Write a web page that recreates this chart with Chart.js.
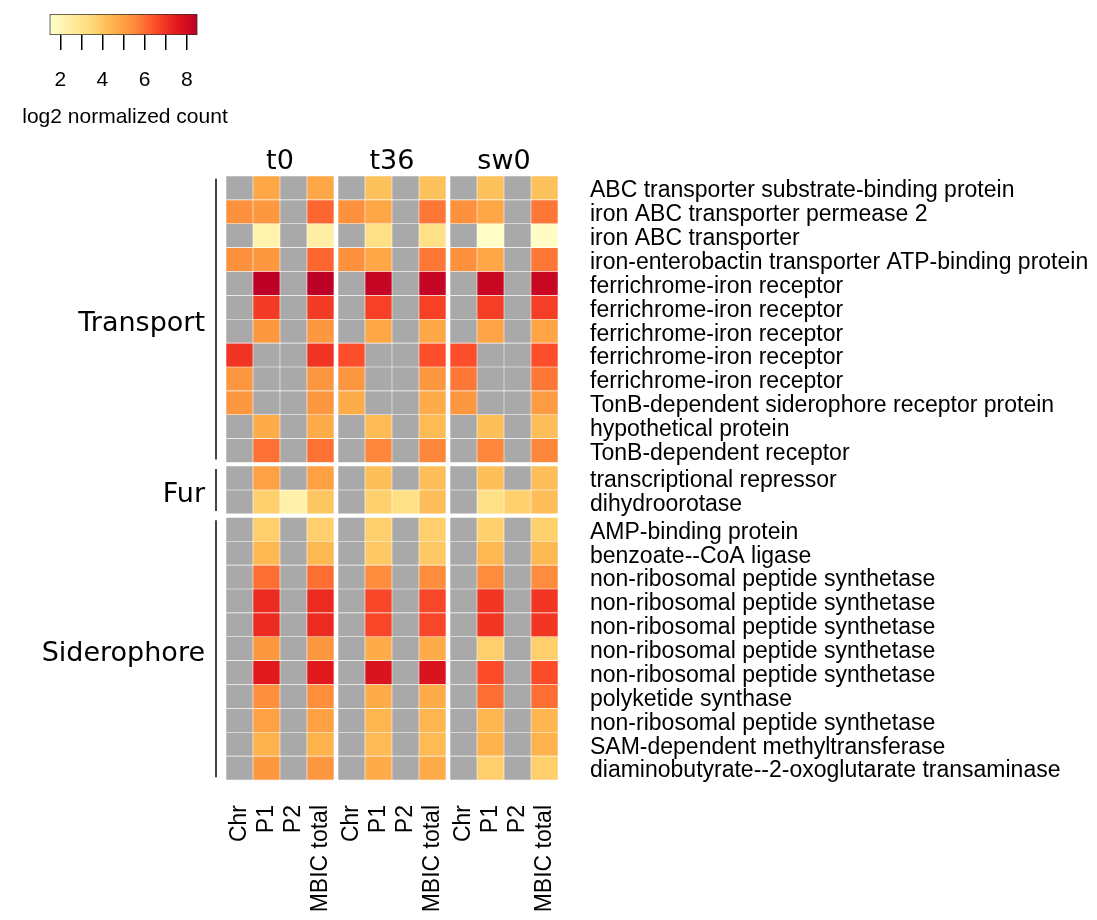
<!DOCTYPE html>
<html>
<head>
<meta charset="utf-8">
<script src="https://cdn.jsdelivr.net/npm/chart.js@4.4.1/dist/chart.umd.min.js"></script>
<style>
  html, body { margin: 0; padding: 0; background: #fff; }
  body { width: 1097px; height: 920px; position: relative; overflow: hidden; }
  #legendBox { position: absolute; left: 0; top: 0; width: 260px; height: 135px; }
  #heatBox { position: absolute; left: 0; top: 130px; width: 1097px; height: 790px; }
</style>
</head>
<body>
<div id="legendBox"><canvas id="legendChart"></canvas></div>
<div id="heatBox"><canvas id="heatChart"></canvas></div>
<script>
const panels = ['t0', 't36', 'sw0'];
const columns = ['Chr', 'P1', 'P2', 'MBIC total'];
const groups = ['Transport', 'Fur', 'Siderophore'];
const groupSizes = [12, 2, 11];
const genes = [
  'ABC transporter substrate-binding protein',
  'iron ABC transporter permease 2',
  'iron ABC transporter',
  'iron-enterobactin transporter ATP-binding protein',
  'ferrichrome-iron receptor',
  'ferrichrome-iron receptor',
  'ferrichrome-iron receptor',
  'ferrichrome-iron receptor',
  'ferrichrome-iron receptor',
  'TonB-dependent siderophore receptor protein',
  'hypothetical protein',
  'TonB-dependent receptor',
  'transcriptional repressor',
  'dihydroorotase',
  'AMP-binding protein',
  'benzoate--CoA ligase',
  'non-ribosomal peptide synthetase',
  'non-ribosomal peptide synthetase',
  'non-ribosomal peptide synthetase',
  'non-ribosomal peptide synthetase',
  'non-ribosomal peptide synthetase',
  'polyketide synthase',
  'non-ribosomal peptide synthetase',
  'SAM-dependent methyltransferase',
  'diaminobutyrate--2-oxoglutarate transaminase'
];

// log2 normalized counts, null = not present (grey)
const t0Chr = [null, 5.4, null, 5.4, null, null, null, 7.0, 5.25, 5.2, null, null, null, null, null, null, null, null, null, null, null, null, null, null, null];
const t0P1 = [4.8, 5.2, 2.2, 5.2, 8.5, 6.85, 5.2, null, null, null, 4.7, 5.95, 5.0, 3.7, 3.75, 4.35, 6.0, 7.2, 7.2, 5.2, 7.55, 5.45, 5.0, 4.5, 5.2];
const t0P2 = [null, null, null, null, null, null, null, null, null, null, null, null, null, 2.3, null, null, null, null, null, null, null, null, null, null, null];
const t0MBIC = [4.8, 6.1, 2.4, 6.1, 8.5, 6.85, 5.2, 7.0, 5.25, 5.2, 4.7, 5.95, 5.0, 4.0, 3.75, 4.35, 6.0, 7.2, 7.2, 5.2, 7.55, 5.45, 5.0, 4.5, 5.2];

const t36Chr = [null, 5.4, null, 5.4, null, null, null, 6.5, 5.25, 4.7, null, null, null, null, null, null, null, null, null, null, null, null, null, null, null];
const t36P1 = [4.1, 4.8, 3.1, 4.8, 8.3, 6.75, 4.8, null, null, null, 4.3, 5.6, 4.2, 3.7, 3.75, 3.9, 5.5, 6.65, 6.65, 4.7, 7.75, 4.7, 4.4, 4.3, 4.7];
const t36P2 = [null, null, null, null, null, null, null, null, null, null, null, null, null, 3.1, null, null, null, null, null, null, null, null, null, null, null];
const t36MBIC = [4.1, 5.85, 3.1, 5.85, 8.3, 6.75, 4.8, 6.5, 5.2, 4.7, 4.3, 5.6, 4.2, 4.2, 3.75, 3.9, 5.5, 6.65, 6.65, 4.7, 7.75, 4.7, 4.4, 4.3, 4.7];

const sw0Chr = [null, 5.4, null, 5.4, null, null, null, 6.5, 5.85, 5.2, null, null, null, null, null, null, null, null, null, null, null, null, null, null, null];
const sw0P1 = [4.1, 4.8, 1.6, 4.8, 8.2, 6.8, 4.9, null, null, null, 4.2, 5.6, 4.2, 3.1, 3.7, 4.35, 5.5, 6.95, 6.95, 3.75, 6.55, 6.0, 4.4, 4.5, 3.75];
const sw0P2 = [null, null, null, null, null, null, null, null, null, null, null, null, null, 3.7, null, null, null, null, null, null, null, null, null, null, null];
const sw0MBIC = [4.1, 5.85, 1.65, 5.85, 8.2, 6.8, 4.9, 6.5, 5.85, 5.1, 4.2, 5.6, 4.2, 4.2, 3.7, 4.35, 5.5, 6.95, 6.95, 3.75, 6.55, 6.0, 4.4, 4.5, 3.75];

const legendTicks = [2, 3, 4, 5, 6, 7, 8];
const legendLabels = ['2', '', '4', '', '6', '', '8'];

const panelValues = [
  [t0Chr, t0P1, t0P2, t0MBIC],
  [t36Chr, t36P1, t36P2, t36MBIC],
  [sw0Chr, sw0P1, sw0P2, sw0MBIC]
];

const vMin = 1.5, vMax = 8.5;
const ramp = ['#ffffcc', '#ffeda0', '#fed976', '#feb24c', '#fd8d3c', '#fc4e2a', '#e31a1c', '#bd0026'];
const naColor = '#a9a9a9';
const panelGap = 0.15;
const groupGap = 0.15;

function hexToRgb(h) {
  return [parseInt(h.slice(1, 3), 16), parseInt(h.slice(3, 5), 16), parseInt(h.slice(5, 7), 16)];
}

function colorFor(v) {
  if (v === null || v === undefined) return naColor;
  let t = (v - vMin) / (vMax - vMin) * (ramp.length - 1);
  t = Math.max(0, Math.min(ramp.length - 1, t));
  const i = Math.min(Math.floor(t), ramp.length - 2);
  const f = t - i;
  const a = hexToRgb(ramp[i]), b = hexToRgb(ramp[i + 1]);
  const c = a.map((x, k) => Math.round(x + (b[k] - x) * f));
  return `rgb(${c[0]},${c[1]},${c[2]})`;
}

// row start on the y scale (rows are 1 unit, groups separated by a small gap)
function rowStart(r) {
  let acc = 0;
  for (let g = 0; g < groupSizes.length; g++) {
    if (r < acc + groupSizes[g]) return r + g * groupGap;
    acc += groupSizes[g];
  }
  return r;
}
function groupRange(g) {
  const first = groupSizes.slice(0, g).reduce((s, n) => s + n, 0);
  return [rowStart(first), rowStart(first) + groupSizes[g]];
}

const colCenters = [];
const colLabels = [];
panels.forEach((p, pi) => columns.forEach((c, ci) => {
  colCenters.push(pi * (columns.length + panelGap) + ci);
  colLabels.push(c);
}));
const panelCenters = panels.map((p, pi) => pi * (columns.length + panelGap) + (columns.length - 1) / 2);
const rowCenters = genes.map((g, r) => rowStart(r) + 0.5);
const groupCenters = groups.map((g, gi) => { const [a, b] = groupRange(gi); return (a + b) / 2; });
const yMax = rowStart(genes.length - 1) + 1;
const xMin = -0.5, xMax = colCenters[colCenters.length - 1] + 0.5;

const cells = [];
panelValues.forEach((cols, pi) => cols.forEach((vals, ci) => vals.forEach((v, r) => {
  cells.push({ x: colCenters[pi * columns.length + ci], y: [rowStart(r), rowStart(r) + 1], v: v });
})));

const groupBrackets = {
  id: 'groupBrackets',
  afterDraw(chart) {
    const { ctx, chartArea, scales } = chart;
    const y = scales.y;
    const x = chartArea.left - 10;
    ctx.save();
    ctx.strokeStyle = '#444';
    ctx.lineWidth = 2;
    groups.forEach((g, gi) => {
      const [a, b] = groupRange(gi);
      ctx.beginPath();
      ctx.moveTo(x, y.getPixelForValue(a + 0.12));
      ctx.lineTo(x, y.getPixelForValue(b - 0.12));
      ctx.stroke();
    });
    ctx.restore();
  }
};

const rowFont = { family: '"Liberation Sans", Arial, sans-serif', size: 23 };
const bigFont = { family: '"DejaVu Sans", sans-serif', size: 27 };

new Chart(document.getElementById('heatChart'), {
  type: 'bar',
  data: {
    datasets: [{
      data: cells,
      backgroundColor: ctx => colorFor(ctx.raw ? ctx.raw.v : null),
      borderColor: 'rgba(255,255,255,0.3)',
      borderWidth: 0.6,
      borderSkipped: false,
      barPercentage: 1,
      categoryPercentage: 1
    }]
  },
  options: {
    responsive: true,
    maintainAspectRatio: false,
    animation: false,
    layout: { padding: 0 },
    plugins: { legend: { display: false }, tooltip: { enabled: false } },
    scales: {
      x: {
        type: 'linear', position: 'bottom', min: xMin, max: xMax, offset: false,
        afterBuildTicks: s => { s.ticks = colCenters.map(v => ({ value: v })); },
        afterFit: s => { s.height = 140; },
        ticks: {
          autoSkip: false, maxRotation: 90, minRotation: 90, padding: 25,
          color: '#000', font: rowFont,
          callback: (v, i) => colLabels[i]
        },
        grid: { display: false, drawTicks: false },
        border: { display: false }
      },
      x2: {
        type: 'linear', position: 'top', min: xMin, max: xMax, offset: false,
        afterBuildTicks: s => { s.ticks = panelCenters.map(v => ({ value: v })); },
        afterFit: s => { s.height = 46; },
        ticks: { autoSkip: false, maxRotation: 0, padding: -2, color: '#000', font: bigFont, callback: (v, i) => panels[i] },
        grid: { display: false, drawTicks: false },
        border: { display: false }
      },
      y: {
        type: 'linear', position: 'right', reverse: true, min: 0, max: yMax,
        afterBuildTicks: s => { s.ticks = rowCenters.map(v => ({ value: v })); },
        afterFit: s => { s.width = 539; },
        ticks: { autoSkip: false, padding: 32, labelOffset: 3, color: '#000', font: rowFont, callback: (v, i) => genes[i] },
        grid: { display: false, drawTicks: false },
        border: { display: false }
      },
      yGroup: {
        type: 'linear', position: 'left', reverse: true, min: 0, max: yMax,
        afterBuildTicks: s => { s.ticks = groupCenters.map(v => ({ value: v })); },
        afterFit: s => { s.width = 226; },
        ticks: { autoSkip: false, padding: 21, labelOffset: 5, color: '#000', font: bigFont, callback: (v, i) => groups[i] },
        grid: { display: false, drawTicks: false },
        border: { display: false }
      }
    }
  },
  plugins: [groupBrackets]
});

new Chart(document.getElementById('legendChart'), {
  type: 'bar',
  data: {
    labels: [''],
    datasets: [{
      data: [[vMin, vMax]],
      backgroundColor: ctx => {
        const { chart } = ctx;
        const xs = chart.scales.x;
        if (!xs || !chart.chartArea) return ramp[4];
        const g = chart.ctx.createLinearGradient(xs.getPixelForValue(vMin), 0, xs.getPixelForValue(vMax), 0);
        ramp.forEach((c, i) => g.addColorStop(i / (ramp.length - 1), c));
        return g;
      },
      borderColor: '#333',
      borderWidth: 1,
      borderSkipped: false,
      barPercentage: 1,
      categoryPercentage: 1
    }]
  },
  options: {
    indexAxis: 'y',
    responsive: true,
    maintainAspectRatio: false,
    animation: false,
    layout: { padding: { left: 12, right: 22, top: 14, bottom: 0 } },
    plugins: { legend: { display: false }, tooltip: { enabled: false } },
    scales: {
      x: {
        type: 'linear', min: -0.29, max: 10.43,
        afterBuildTicks: s => { s.ticks = legendTicks.map(v => ({ value: v })); },
        afterFit: s => { s.height = 100; },
        ticks: { autoSkip: false, maxRotation: 0, padding: 18, color: '#000', font: { family: '"Liberation Sans", Arial, sans-serif', size: 21 }, callback: (v, i) => legendLabels[i] },
        grid: { drawOnChartArea: false, drawTicks: true, tickLength: 15, color: '#000', lineWidth: 1.5 },
        border: { display: false },
        title: { display: true, text: 'log2 normalized count', color: '#000', font: { family: '"Liberation Sans", Arial, sans-serif', size: 21 }, padding: { top: 0, bottom: 5 } }
      },
      y: { display: false }
    }
  }
});
</script>
</body>
</html>
